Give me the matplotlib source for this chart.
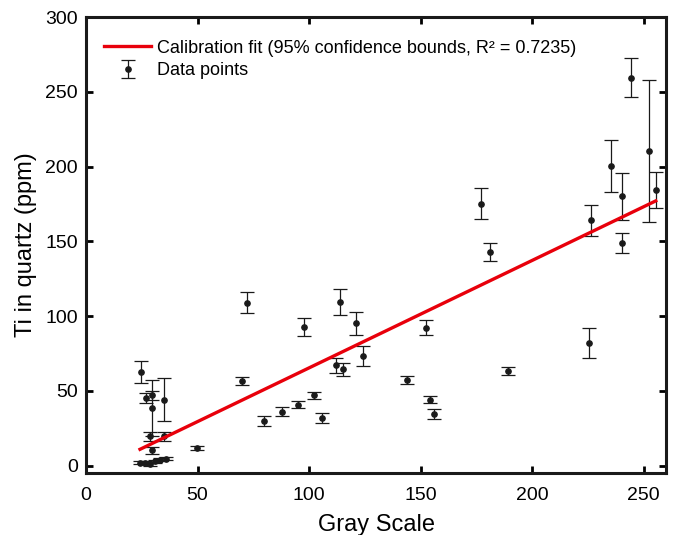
import matplotlib
matplotlib.use("Agg")
import matplotlib.pyplot as plt
import numpy as np

plt.rcParams['font.family'] = ['Liberation Sans', 'DejaVu Sans']

# Data points (Gray Scale, Ti ppm, error)
gray = [24.7, 26.8, 29.6, 29.6, 28.9, 34.9, 34.8, 29.6,
        24.2, 26.5, 28.7, 31.0, 33.2, 35.9,
        49.7, 72.0, 69.9, 79.9, 88.0, 94.8, 102.0, 105.9, 97.8,
        114.0, 121.0, 111.9, 115.0, 124.0, 143.9, 152.2, 154.1, 156.0,
        177.1, 181.2, 189.1, 225.3, 226.3, 240.4, 240.4, 255.4, 244.3,
        235.3, 252.4]
ti = [62.6, 45.2, 47.0, 38.5, 19.6, 19.6, 44.0, 10.2,
      1.8, 1.8, 0.7, 2.9, 4.0, 4.5,
      11.8, 108.9, 56.3, 29.9, 36.1, 40.7, 47.0, 31.6, 92.4,
      109.4, 95.0, 67.0, 64.3, 73.3, 57.2, 92.2, 44.1, 34.5,
      175.2, 142.8, 63.2, 81.7, 164.1, 148.8, 180.2, 184.2, 259.4,
      200.4, 210.4]
err = [7.2, 3.4, 3.0, 19.0, 3.0, 3.0, 14.5, 2.5,
       1.0, 1.0, 1.0, 1.0, 1.0, 1.0,
       1.2, 7.1, 2.6, 3.3, 3.0, 2.5, 2.5, 3.3, 6.0,
       8.9, 7.8, 4.9, 4.3, 6.5, 2.5, 5.1, 2.6, 3.1,
       10.5, 6.1, 2.5, 10.1, 10.3, 6.9, 15.7, 12.2, 12.9,
       17.4, 47.6]

# Calibration fit line parameters
fit_slope = 0.7187
fit_intercept = -6.55
fit_label = "Calibration fit (95% confidence bounds, R\u00b2 = 0.7235)"
data_label = "Data points"

fig = plt.figure(figsize=(6.79, 5.35), dpi=100)
ax = fig.add_axes([0.1267, 0.1159, 0.8542, 0.8523])

xf = np.array([min(gray), max(gray)])
ax.plot(xf, fit_slope * xf + fit_intercept, color='#e8000b', lw=2.4,
        label=fit_label, zorder=3)
ax.errorbar(gray, ti, yerr=err, fmt='o', color='#1a1a1a', ms=3.8,
            ecolor='#1a1a1a', elinewidth=0.9, capsize=5.2, capthick=0.9,
            label=data_label, zorder=2)

ax.set_xlim(0, 260)
ax.set_ylim(-5, 300)
ax.set_xticks([0, 50, 100, 150, 200, 250])
ax.set_yticks([0, 50, 100, 150, 200, 250, 300])
ax.tick_params(direction='in', length=5, width=2, labelsize=14,
               top=True, right=True)
ax.tick_params(axis='x', pad=10)
ax.tick_params(axis='y', pad=6)
for s in ax.spines.values():
    s.set_linewidth(2.2)
    s.set_color('#1a1a1a')

ax.set_xlabel("Gray Scale", fontsize=17, labelpad=7)
ax.set_ylabel("Ti in quartz (ppm)", fontsize=17, labelpad=6)

leg = ax.legend(loc='upper left', bbox_to_anchor=(0.01, 0.978),
                frameon=False, fontsize=13,
                handlelength=2.6, handletextpad=0.3, borderaxespad=0.3,
                labelspacing=0.32)

fig.savefig("out.png", dpi=100)
